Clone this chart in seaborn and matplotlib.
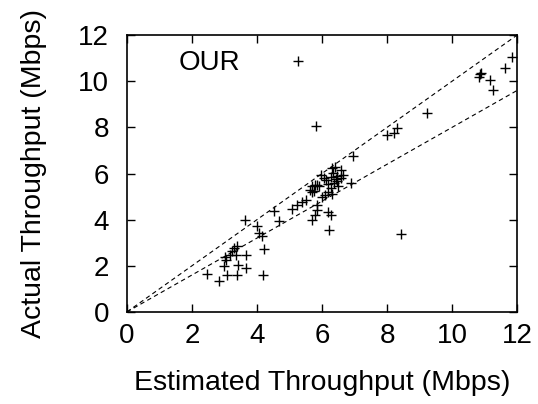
import matplotlib
matplotlib.use("Agg")
import matplotlib.pyplot as plt
import seaborn as sns
import numpy as np
import pandas as pd

estimated = [2.45, 2.83, 2.98, 3.08, 3.03, 3.17, 3.24, 3.29, 3.37, 3.34, 3.39, 3.42, 3.65, 3.67,
             3.63, 4.01, 4.06, 4.16, 4.21, 4.18, 3.06,
             4.52, 4.68, 5.09, 5.24, 5.40, 5.52, 5.70, 5.78, 5.86, 5.86, 6.01, 6.17, 6.27, 6.22,
             5.27, 5.83,
             5.62, 5.70, 5.75, 5.80, 5.86, 5.92, 5.96, 6.05, 6.11, 6.17, 6.20, 6.27, 6.27, 6.32,
             6.35, 6.37, 6.40, 6.42, 6.46, 6.50, 6.58, 6.60, 6.66, 6.89, 6.94, 6.30, 6.10, 5.70, 6.45,
             8.00, 8.22, 8.30, 8.43, 9.22, 10.84, 10.87, 10.90, 11.18, 11.27, 11.64, 11.84]
actual = [1.65, 1.36, 1.98, 1.62, 2.38, 2.48, 2.63, 2.77, 2.84, 2.48, 1.62, 2.05, 2.48, 1.90,
          4.00, 3.71, 3.42, 3.30, 2.73, 1.59, 2.24,
          4.36, 3.92, 4.46, 4.65, 4.75, 4.85, 4.00, 4.21, 4.43, 4.64, 5.00, 4.35, 4.21, 3.56,
          10.87, 8.07,
          5.30, 5.44, 5.25, 5.50, 5.51, 5.45, 5.94, 5.80, 5.73, 5.22, 5.55, 5.87, 5.37, 6.23,
          6.02, 5.58, 6.30, 5.75, 5.66, 5.45, 6.16, 5.80, 5.94, 5.58, 6.74, 5.10, 5.05, 5.20, 5.90,
          7.68, 7.75, 7.97, 3.39, 8.61, 10.20, 10.32, 10.35, 10.06, 9.61, 10.59, 11.04]
ref_x = [0, 12]
ref_y1 = [0, 12]
ref_y2 = [0, 9.6]
ticks = [0, 2, 4, 6, 8, 10, 12]

sns.set_theme(style="white")
plt.rcParams['font.family'] = ['Liberation Sans', 'DejaVu Sans']

fig = plt.figure(figsize=(5.38, 4.04), dpi=100)
ax = fig.add_axes([0.236, 0.228, 0.725, 0.685])

df = pd.DataFrame({"est": estimated, "act": actual})
sns.lineplot(x=ref_x, y=ref_y1, ax=ax, color="black", lw=0.8, dashes=False, linestyle=(0, (4, 3)))
sns.lineplot(x=ref_x, y=ref_y2, ax=ax, color="black", lw=0.8, dashes=False, linestyle=(0, (4, 3)))
sns.scatterplot(data=df, x="est", y="act", ax=ax, marker="+", s=50, color="black", linewidth=1.0)

ax.set_xlim(0, 12)
ax.set_ylim(0, 12)
ax.set_xticks(ticks)
ax.set_yticks(ticks)
ax.tick_params(direction="in", length=6, width=1, top=True, right=True, labelsize=20,
               bottom=True, left=True, color="black", labelcolor="black")
ax.tick_params(axis="x", pad=8)
ax.tick_params(axis="y", pad=13)
for s in ax.spines.values():
    s.set_color("black")
    s.set_linewidth(1.2)
ax.set_xlabel("Estimated Throughput (Mbps)", fontsize=20.5, color="black", labelpad=15)
ax.set_ylabel("Actual Throughput (Mbps)", fontsize=20.5, color="black", labelpad=22)
ax.text(1.58, 10.8, "OUR", fontsize=20, va="center", ha="left", color="black")

fig.savefig("out.png", dpi=100)
